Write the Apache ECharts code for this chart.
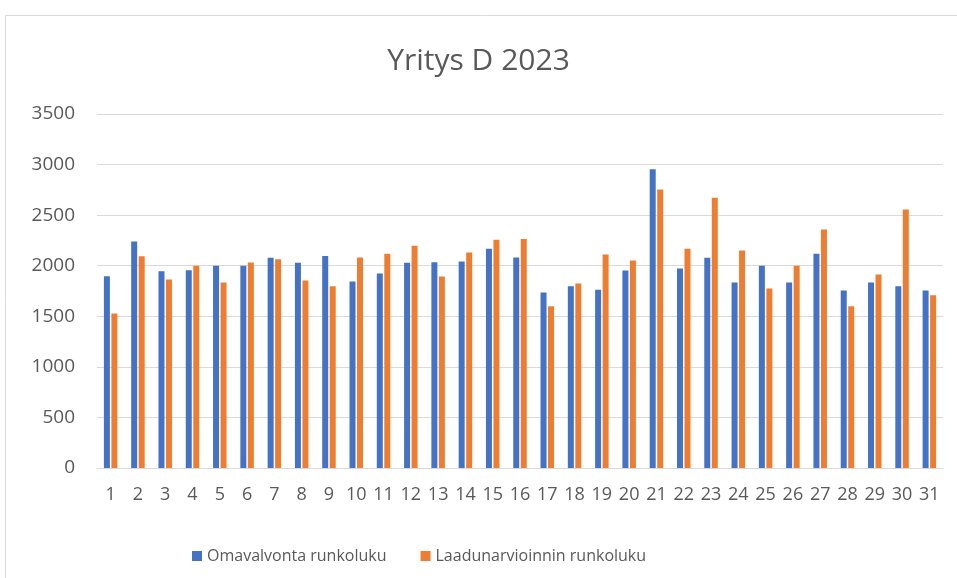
<!DOCTYPE html>
<html>
<head>
<meta charset="utf-8">
<script src="https://cdn.jsdelivr.net/npm/echarts@6/dist/echarts.min.js"></script>
<style>
html, body { margin: 0; padding: 0; background: #fff; }
#chartdiv { width: 957px; height: 578px; }
</style>
</head>
<body>
<div id="chartdiv"></div>
<script>
var days = ['1','2','3','4','5','6','7','8','9','10','11','12','13','14','15','16','17','18','19','20','21','22','23','24','25','26','27','28','29','30','31'];
var omavalvonta = [1895,2240,1946,1956,2000,2000,2079,2029,2095,1845,1924,2029,2035,2042,2168,2082,1736,1798,1762,1953,2954,1973,2079,1835,2000,1835,2118,1756,1835,1798,1756];
var laadunarviointi = [1528,2094,1864,2000,1835,2032,2065,1855,1798,2082,2118,2197,1894,2131,2257,2263,1598,1825,2111,2052,2753,2168,2671,2151,1775,2000,2358,1598,1914,2556,1709];
var seriesNames = ['Omavalvonta runkoluku', 'Laadunarvioinnin runkoluku'];

var chart = echarts.init(document.getElementById('chartdiv'));
var textFont = 'Open Sans';

chart.setOption({
    animation: false,
    textStyle: { fontFamily: textFont },
    title: {
        text: 'Yritys D 2023',
        left: 'center',
        top: 41,
        textStyle: { fontSize: 30, fontWeight: 'normal', color: '#595959', fontFamily: textFont }
    },
    graphic: [{
        type: 'rect',
        shape: { x: 5.5, y: 15.5, width: 1200, height: 1200 },
        style: { fill: 'none', stroke: '#d9d9d9', lineWidth: 1 },
        silent: true
    }],
    legend: {
        top: 543,
        left: 187,
        itemWidth: 10,
        itemHeight: 10,
        itemGap: 34,
        icon: 'rect',
        textStyle: { fontSize: 16, color: '#595959' },
        data: seriesNames
    },
    grid: { left: 97, right: 14, top: 114, bottom: 110 },
    xAxis: {
        type: 'category',
        data: days,
        axisTick: { show: false },
        axisLine: { lineStyle: { color: '#d9d9d9' } },
        axisLabel: { interval: 0, fontSize: 18, color: '#595959', margin: 18 }
    },
    yAxis: {
        type: 'value',
        min: 0,
        max: 3500,
        interval: 500,
        axisLabel: {
            fontSize: 19, color: '#595959', margin: 22,
            formatter: function (v) { return String(v); }
        },
        splitLine: { lineStyle: { color: '#d9d9d9' } }
    },
    series: [{
        name: seriesNames[0],
        type: 'bar',
        data: omavalvonta,
        barWidth: 6,
        barGap: '25%',
        itemStyle: { color: '#4472C4' }
    }, {
        name: seriesNames[1],
        type: 'bar',
        data: laadunarviointi,
        barWidth: 6,
        itemStyle: { color: '#ED7D31' }
    }]
});
</script>
</body>
</html>
